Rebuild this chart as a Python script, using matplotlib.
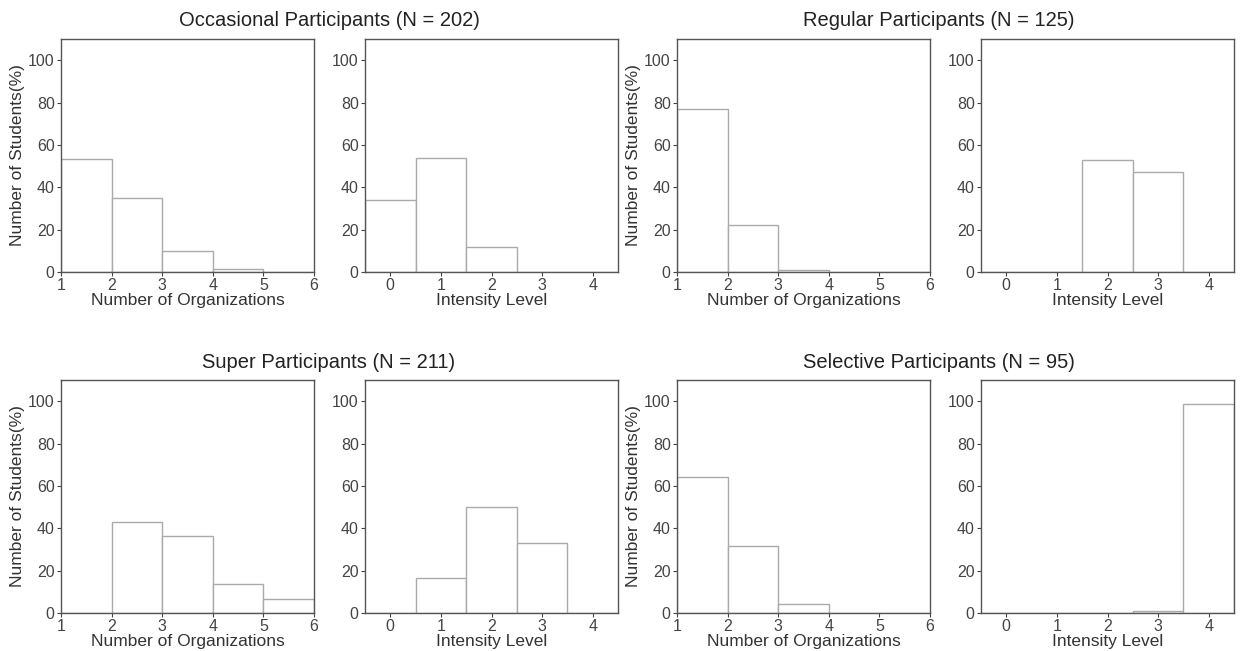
import matplotlib
matplotlib.use("Agg")
import matplotlib.pyplot as plt

plt.rcParams['font.family'] = ['Liberation Sans', 'DejaVu Sans']

groups = ["Occasional Participants (N = 202)", "Regular Participants (N = 125)",
          "Super Participants (N = 211)", "Selective Participants (N = 95)"]

org_bins = [1, 2, 3, 4, 5]
org_pct = [
    [53.5, 35.1, 9.9, 1.5, 0.0],
    [76.8, 22.4, 0.8, 0.0, 0.0],
    [0.0, 43.1, 36.5, 13.7, 6.6],
    [64.2, 31.6, 4.2, 0.0, 0.0],
]
int_levels = [0, 1, 2, 3, 4]
int_pct = [
    [34.2, 54.0, 11.9, 0.0, 0.0],
    [0.0, 0.0, 52.8, 47.2, 0.0],
    [0.0, 16.6, 50.2, 33.2, 0.0],
    [0.0, 0.0, 0.0, 1.05, 98.9],
]

W, H = 1244, 651
fig = plt.figure(figsize=(W / 100, H / 100), dpi=100)

lefts = [61, 365, 677, 981]
width = 253
row_tops = [39, 380]
row_h = 233
title_x = [329, 939, 329, 939]
title_y = [20, 362]

edge = '#aaaaaa'
spine = '#555555'
tick_col = '#444444'

for g in range(4):
    r = g // 2
    c = g % 2
    top = row_tops[r]
    for k in range(2):
        left = lefts[2 * c + k]
        ax = fig.add_axes([left / W, 1 - (top + row_h) / H, width / W, row_h / H])
        if k == 0:
            ax.bar(org_bins, org_pct[g], width=1, align='edge', facecolor='white',
                   edgecolor=edge, linewidth=1.0)
            ax.set_xlim(1, 6)
            ax.set_xticks([1, 2, 3, 4, 5, 6])
            ax.set_xlabel("Number of Organizations", fontsize=12.5, color='#333333', labelpad=0)
            ax.set_ylabel("Number of Students(%)", fontsize=12.5, color='#333333', labelpad=2)
        else:
            ax.bar(int_levels, int_pct[g], width=1, align='center', facecolor='white',
                   edgecolor=edge, linewidth=1.0)
            ax.set_xlim(-0.5, 4.5)
            ax.set_xticks([0, 1, 2, 3, 4])
            ax.set_xlabel("Intensity Level", fontsize=12.5, color='#333333', labelpad=0)
        ax.set_ylim(0, 110)
        ax.set_yticks([0, 20, 40, 60, 80, 100])
        for s in ax.spines.values():
            s.set_color(spine)
            s.set_linewidth(1.0)
        ax.tick_params(axis='both', labelsize=11.5, colors=tick_col, length=3, width=0.8, pad=1.5)
    fig.text(title_x[g] / W, 1 - title_y[r] / H, groups[g], ha='center', va='center',
             fontsize=14.5, color='#222222')

fig.savefig("out.png", dpi=100, facecolor='white')
